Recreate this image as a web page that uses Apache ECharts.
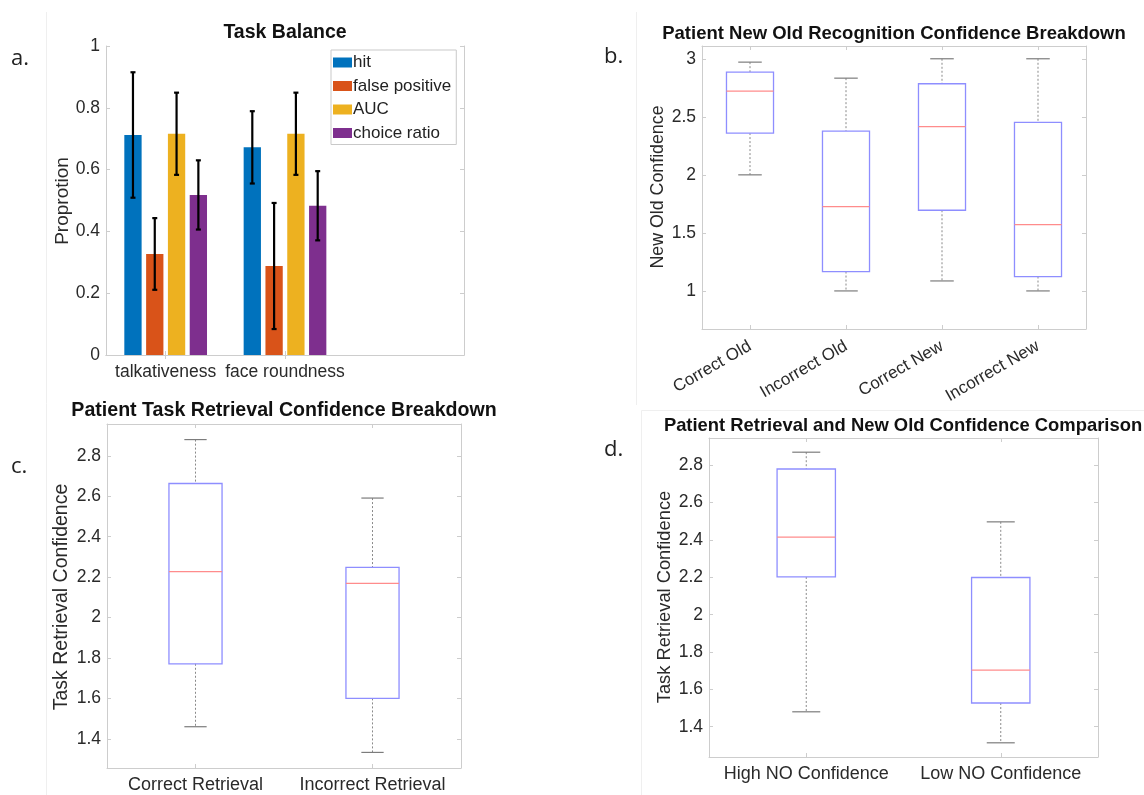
<!DOCTYPE html>
<html>
<head>
<meta charset="utf-8">
<script src="https://cdn.jsdelivr.net/npm/echarts@6/dist/echarts.min.js"></script>
<style>
  html, body { margin: 0; padding: 0; background: #fff; }
  #chart { width: 1144px; height: 795px; }
</style>
</head>
<body>
<div id="chart"></div>
<script>
// ---- Panel a: task balance (mean ± error) ----
const taskCategories = ['talkativeness', 'face roundness', ''];
const balanceNames = ['hit', 'false positive', 'AUC', 'choice ratio'];
const hitValues = [0.712, 0.672];
const hitErrors = [0.203, 0.117];
const falsePositiveValues = [0.327, 0.288];
const falsePositiveErrors = [0.116, 0.204];
const aucValues = [0.716, 0.716];
const aucErrors = [0.133, 0.133];
const choiceRatioValues = [0.518, 0.483];
const choiceRatioErrors = [0.112, 0.112];

// ---- Box summaries: [lower whisker, Q1, median, Q3, upper whisker] ----
const recognitionCategories = ['Correct Old', 'Incorrect Old', 'Correct New', 'Incorrect New'];
const recognitionBoxes = [
  [2.0, 2.36, 2.721, 2.885, 2.971],
  [1.0, 1.167, 1.726, 2.377, 2.833],
  [1.086, 1.695, 2.415, 2.785, 3.0],
  [1.0, 1.124, 1.571, 2.452, 3.0]
];
const retrievalCategories = ['Correct Retrieval', 'Incorrect Retrieval'];
const retrievalBoxes = [
  [1.461, 1.772, 2.227, 2.663, 2.88],
  [1.334, 1.601, 2.169, 2.248, 2.591]
];
const comparisonCategories = ['High NO Confidence', 'Low NO Confidence'];
const comparisonBoxes = [
  [1.48, 2.202, 2.415, 2.78, 2.87],
  [1.314, 1.527, 1.703, 2.199, 2.497]
];

const FONT = 'Liberation Sans';
const FRAME = '#cdcdcd';
const TICK_TEXT = '#2a2a2a';
const BAR_COLORS = ['#0072BD', '#D95319', '#EDB120', '#7E2F8E'];
const BAR_WIDTH = 17.3;
const BAR_GAP = 0.26;

function xAxes(gridIndex, categories, labelOpts, tickFilter) {
  const common = {
    type: 'category', gridIndex, data: categories, boundaryGap: true,
    axisLine: { show: true, lineStyle: { color: FRAME, width: 1 } },
    axisTick: { show: true, inside: true, alignWithLabel: true, length: 4,
                interval: tickFilter || 0, lineStyle: { color: FRAME } },
    splitLine: { show: false }
  };
  return [
    Object.assign({}, common, { position: 'bottom',
      axisLabel: Object.assign({ color: TICK_TEXT, fontFamily: FONT, interval: 0 }, labelOpts) }),
    Object.assign({}, common, { position: 'top', axisLabel: { show: false } })
  ];
}

function yAxes(gridIndex, min, max, step, fontSize) {
  const fmt = v => {
    const k = v / step;
    return Math.abs(k - Math.round(k)) < 1e-6 ? String(+v.toFixed(2)) : '';
  };
  const common = {
    type: 'value', gridIndex, min, max, minInterval: step, maxInterval: step,
    axisLine: { show: true, lineStyle: { color: FRAME, width: 1 } },
    axisTick: { show: true, inside: true, length: 4, lineStyle: { color: FRAME } },
    splitLine: { show: false }
  };
  return [
    Object.assign({}, common, { position: 'left',
      axisLabel: { color: TICK_TEXT, fontFamily: FONT, fontSize, margin: 6, formatter: fmt } }),
    Object.assign({}, common, { position: 'right', axisLabel: { show: false } })
  ];
}

// Whisker/box/median drawn per row through the axis scales
function boxRenderer(widthRatio, capRatio) {
  return function (params, api) {
    const idx = api.value(0);
    const bw = api.size([1, 0])[0] * widthRatio;
    const cw = bw * capRatio;
    const lo = api.coord([idx, api.value(1)]);
    const q1 = api.coord([idx, api.value(2)]);
    const med = api.coord([idx, api.value(3)]);
    const q3 = api.coord([idx, api.value(4)]);
    const hi = api.coord([idx, api.value(5)]);
    const cx = lo[0];
    const whisker = { stroke: '#8a8a8a', lineWidth: 1, lineDash: [2, 2] };
    const cap = { stroke: '#7c7c7c', lineWidth: 1.2 };
    return {
      type: 'group',
      children: [
        { type: 'line', shape: { x1: cx, y1: hi[1], x2: cx, y2: q3[1] }, style: whisker },
        { type: 'line', shape: { x1: cx, y1: q1[1], x2: cx, y2: lo[1] }, style: whisker },
        { type: 'line', shape: { x1: cx - cw / 2, y1: hi[1], x2: cx + cw / 2, y2: hi[1] }, style: cap },
        { type: 'line', shape: { x1: cx - cw / 2, y1: lo[1], x2: cx + cw / 2, y2: lo[1] }, style: cap },
        { type: 'rect', shape: { x: cx - bw / 2, y: q3[1], width: bw, height: q1[1] - q3[1] },
          style: { fill: 'none', stroke: '#8e8eff', lineWidth: 1.3 } },
        { type: 'line', shape: { x1: cx - bw / 2, y1: med[1], x2: cx + bw / 2, y2: med[1] },
          style: { stroke: '#ff8c8c', lineWidth: 1.3 } }
      ]
    };
  };
}

function errorRenderer(offset) {
  return function (params, api) {
    const idx = api.value(0);
    const top = api.coord([idx, api.value(1) + api.value(2)]);
    const bot = api.coord([idx, api.value(1) - api.value(2)]);
    const x = top[0] + offset;
    const st = { stroke: '#000', lineWidth: 2.2 };
    return {
      type: 'group',
      children: [
        { type: 'line', shape: { x1: x, y1: top[1], x2: x, y2: bot[1] }, style: st },
        { type: 'line', shape: { x1: x - 2.5, y1: top[1], x2: x + 2.5, y2: top[1] }, style: st },
        { type: 'line', shape: { x1: x - 2.5, y1: bot[1], x2: x + 2.5, y2: bot[1] }, style: st }
      ]
    };
  };
}

function text(str, x, y, size, opts) {
  opts = opts || {};
  return {
    type: 'text', x, y, rotation: opts.rot || 0, z: 20,
    style: {
      text: str, fontSize: size, fontFamily: opts.family || FONT,
      fontWeight: opts.weight || 'normal', fill: opts.color || '#1f1f1f',
      align: opts.align || 'center', verticalAlign: 'middle'
    }
  };
}
function faint(x1, y1, x2, y2) {
  return { type: 'line', shape: { x1, y1, x2, y2 }, style: { stroke: '#efefef', lineWidth: 1 }, z: 0 };
}

const barMeans = [hitValues, falsePositiveValues, aucValues, choiceRatioValues];
const barErrors = [hitErrors, falsePositiveErrors, aucErrors, choiceRatioErrors];
const pitch = BAR_WIDTH * (1 + BAR_GAP);

const series = [];
balanceNames.forEach((name, i) => {
  series.push({
    type: 'bar', name, xAxisIndex: 0, yAxisIndex: 0,
    data: barMeans[i], barWidth: BAR_WIDTH, barGap: (BAR_GAP * 100) + '%',
    itemStyle: { color: BAR_COLORS[i] }, z: 2
  });
});
balanceNames.forEach((name, i) => {
  series.push({
    type: 'custom', name: name + ' error', xAxisIndex: 0, yAxisIndex: 0, z: 5,
    renderItem: errorRenderer((i - 1.5) * pitch),
    encode: { x: 0, y: 1 },
    data: barMeans[i].map((m, k) => [k, m, barErrors[i][k]])
  });
});
series.push({
  type: 'custom', name: 'recognition', xAxisIndex: 2, yAxisIndex: 2,
  renderItem: boxRenderer(0.49, 0.5), encode: { x: 0, y: [1, 2, 3, 4, 5] },
  data: recognitionBoxes.map((b, i) => [i].concat(b))
});
series.push({
  type: 'custom', name: 'retrieval', xAxisIndex: 4, yAxisIndex: 4,
  renderItem: boxRenderer(0.3, 0.42), encode: { x: 0, y: [1, 2, 3, 4, 5] },
  data: retrievalBoxes.map((b, i) => [i].concat(b))
});
series.push({
  type: 'custom', name: 'comparison', xAxisIndex: 6, yAxisIndex: 6,
  renderItem: boxRenderer(0.3, 0.48), encode: { x: 0, y: [1, 2, 3, 4, 5] },
  data: comparisonBoxes.map((b, i) => [i].concat(b))
});

const option = {
  backgroundColor: '#ffffff',
  animation: false,
  grid: [
    { left: 106, top: 46, width: 358, height: 309 },
    { left: 702, top: 46, width: 384, height: 283 },
    { left: 107, top: 424, width: 354, height: 344 },
    { left: 709, top: 438, width: 389, height: 319 }
  ],
  xAxis: [].concat(
    xAxes(0, taskCategories, { fontSize: 17.5, margin: 8 }, (index) => index < 2),
    xAxes(1, recognitionCategories, { fontSize: 17, margin: 16, rotate: 30 }),
    xAxes(2, retrievalCategories, { fontSize: 18, margin: 8 }),
    xAxes(3, comparisonCategories, { fontSize: 18, margin: 8 })
  ),
  yAxis: [].concat(
    yAxes(0, 0, 1, 0.2, 17.5),
    yAxes(1, 0.672, 3.11, 0.5, 17.5),
    yAxes(2, 1.257, 2.957, 0.2, 17.5),
    yAxes(3, 1.238, 2.946, 0.2, 17.5)
  ),
  legend: {
    data: balanceNames, orient: 'vertical', left: 331, top: 50,
    icon: 'rect', itemWidth: 19, itemHeight: 10, itemGap: 6.5,
    padding: [4, 5, 3, 2], selectedMode: false,
    borderColor: '#c9c9c9', borderWidth: 1, backgroundColor: '#ffffff',
    textStyle: { fontSize: 17, fontFamily: FONT, color: '#222', lineHeight: 16, padding: [0, 0, 0, -4] }
  },
  graphic: [
    faint(46.5, 12, 46.5, 795),
    faint(636.5, 12, 636.5, 405),
    faint(641.5, 410.5, 641.5, 795),
    faint(641.5, 410.5, 1144, 410.5),
    text('a.', 11, 59, 22, { family: 'Open Sans', align: 'left', color: '#222' }),
    text('b.', 604, 57, 22, { family: 'Open Sans', align: 'left', color: '#222' }),
    text('c.', 11, 467, 22, { family: 'Open Sans', align: 'left', color: '#222' }),
    text('d.', 604, 450, 22, { family: 'Open Sans', align: 'left', color: '#222' }),
    text('Task Balance', 285, 33, 19.5, { weight: 'bold', color: '#111' }),
    text('Patient New Old Recognition Confidence Breakdown', 894, 33.5, 18.5, { weight: 'bold', color: '#111' }),
    text('Patient Task Retrieval Confidence Breakdown', 284, 411, 19.6, { weight: 'bold', color: '#111' }),
    text('Patient Retrieval and New Old Confidence Comparison', 903, 426, 18.4, { weight: 'bold', color: '#111' }),
    text('Proprotion', 63, 201, 19, { rot: Math.PI / 2, color: TICK_TEXT }),
    text('New Old Confidence', 658, 187, 17.8, { rot: Math.PI / 2, color: TICK_TEXT }),
    text('Task Retrieval Confidence', 62, 597, 19.5, { rot: Math.PI / 2, color: TICK_TEXT }),
    text('Task Retrieval Confidence', 665, 597, 18.3, { rot: Math.PI / 2, color: TICK_TEXT })
  ],
  series
};

const chart = echarts.init(document.getElementById('chart'), null, { renderer: 'canvas' });
chart.setOption(option);
</script>
</body>
</html>
